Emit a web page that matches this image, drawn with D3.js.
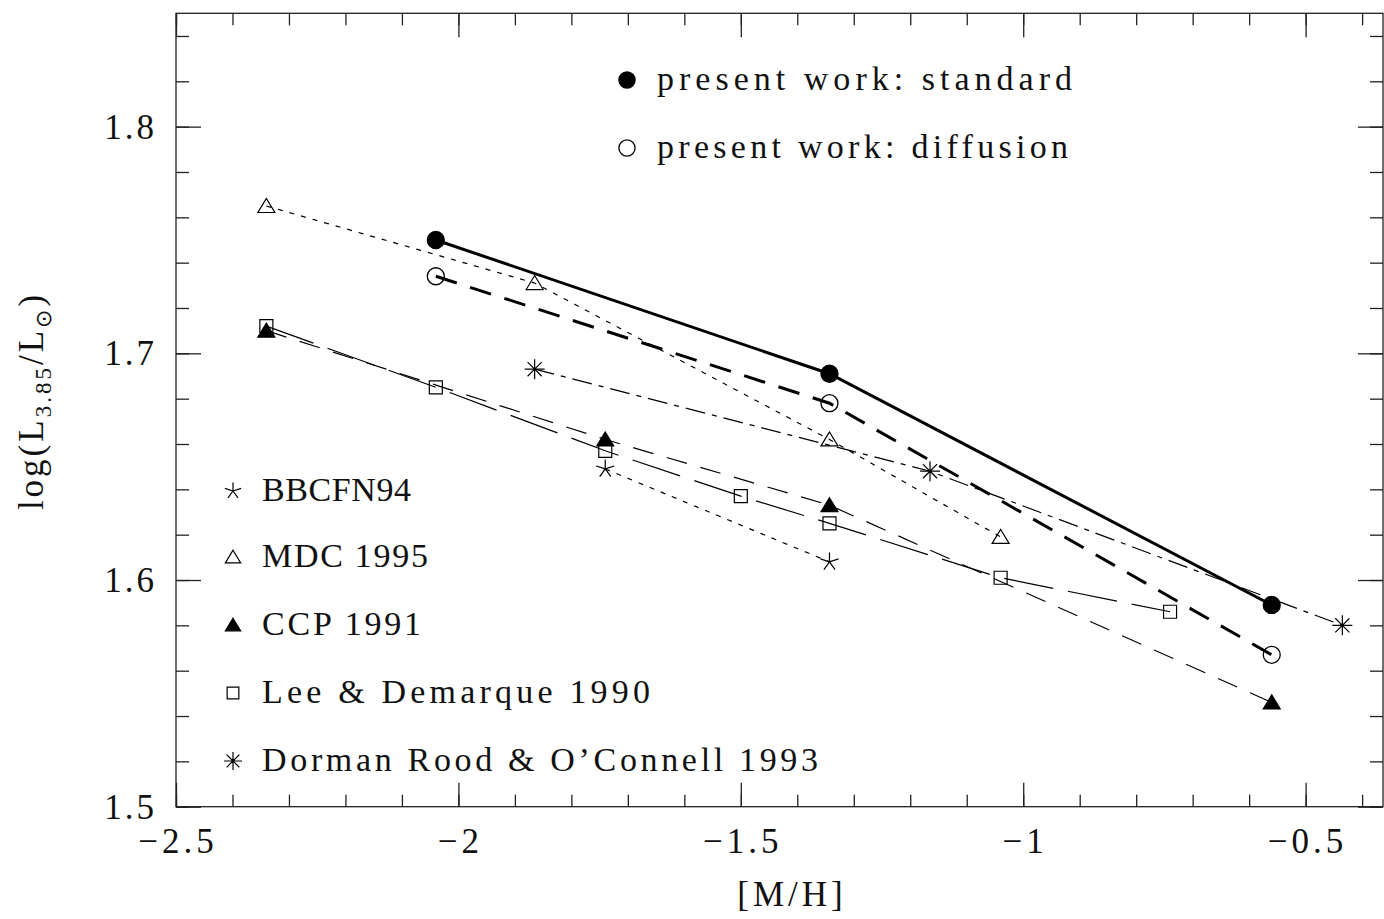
<!DOCTYPE html>
<html>
<head>
<meta charset="utf-8">
<script src="https://cdn.jsdelivr.net/npm/d3@7"></script>
<style>
  body { margin: 0; background: #fff; }
  svg text { font-family: "Liberation Serif", "DejaVu Serif", serif; fill: #111; }
</style>
</head>
<body>
<div id="chart"></div>
<script>
// [M/H] vs log(L3.85/Lsun) -- comparison with older HB models

// present work
var stdX = [-2.04, -1.343, -0.56];
var stdY = [1.750, 1.691, 1.589];
var difX = [-2.04, -1.343, -0.56];
var difY = [1.734, 1.678, 1.567];
// literature
var mdcX = [-2.34, -1.865, -1.343, -1.04];
var mdcY = [1.765, 1.731, 1.662, 1.619];
var ccpX = [-2.34, -1.74, -1.343, -0.56];
var ccpY = [1.710, 1.662, 1.633, 1.546];
var leeX = [-2.34, -2.04, -1.74, -1.5, -1.343, -1.04, -0.74];
var leeY = [1.712, 1.685, 1.657, 1.637, 1.625, 1.601, 1.586];
var bbcX = [-1.74, -1.343];
var bbcY = [1.649, 1.608];
var droX = [-1.865, -1.165, -0.435];
var droY = [1.693, 1.648, 1.580];

var xMajor = [-2.5, -2, -1.5, -1, -0.5];
var yMajor = [1.5, 1.6, 1.7, 1.8];

var width = 1384, height = 919;
var pLeft = 176, pRight = 1383, pTop = 13.3, pBottom = 806.7;

var svg = d3.select("#chart").append("svg")
    .attr("width", width)
    .attr("height", height);

var x = d3.scaleLinear().domain([-2.5, -0.363]).range([pLeft, pRight]);
var y = d3.scaleLinear().domain([1.5, 1.85]).range([pBottom, pTop]);

var xMinor = d3.range(-2.5, -0.36, 0.1).map(function(d) { return +d.toFixed(1); });
var yMinor = d3.range(1.5, 1.85, 0.02).map(function(d) { return +d.toFixed(2); });

// Frame
svg.append("rect")
  .attr("x", pLeft).attr("y", pTop)
  .attr("width", pRight - pLeft).attr("height", pBottom - pTop)
  .style("fill", "none")
  .style("stroke", "#222")
  .style("stroke-width", 1.3);

// Ticks on all four sides, pointing inward
function tickAxis(axis, vals, size, tx, ty) {
  var g = svg.append("g")
    .attr("transform", "translate(" + tx + "," + ty + ")")
    .call(axis.tickValues(vals).tickSize(size).tickSizeOuter(0).tickFormat(""));
  g.select(".domain").remove();
  g.selectAll("line").style("stroke", "#222").style("stroke-width", 1.3);
  return g;
}
tickAxis(d3.axisBottom(x), xMinor, -12, 0, pBottom);
tickAxis(d3.axisBottom(x), xMajor, -24, 0, pBottom);
tickAxis(d3.axisTop(x), xMinor, -12, 0, pTop);
tickAxis(d3.axisTop(x), xMajor, -24, 0, pTop);
tickAxis(d3.axisLeft(y), yMinor, -13, pLeft, 0);
tickAxis(d3.axisLeft(y), yMajor, -25, pLeft, 0);
tickAxis(d3.axisRight(y), yMinor, -13, pRight, 0);
tickAxis(d3.axisRight(y), yMajor, -25, pRight, 0);

// Tick labels
var fmt = d3.format("");
svg.selectAll(".xlab")
  .data(xMajor)
  .enter().append("text")
  .attr("class", "xlab")
  .attr("x", function(d) { return x(d) + 2; })
  .attr("y", 853)
  .style("text-anchor", "middle")
  .style("font-size", "35px")
  .style("letter-spacing", "4px")
  .text(function(d) { return fmt(d); });

svg.selectAll(".ylab")
  .data(yMajor)
  .enter().append("text")
  .attr("class", "ylab")
  .attr("x", 157)
  .attr("y", function(d) { return y(d) + 12; })
  .style("text-anchor", "end")
  .style("font-size", "35px")
  .style("letter-spacing", "3px")
  .text(function(d) { return d3.format(".1f")(d); });

// Axis titles
svg.append("text")
  .attr("x", 792)
  .attr("y", 906)
  .style("text-anchor", "middle")
  .style("font-size", "35px")
  .style("letter-spacing", "4px")
  .text("[M/H]");

var ylab = svg.append("text")
  .attr("transform", "translate(43,401) rotate(-90)")
  .style("text-anchor", "middle")
  .style("font-size", "35px")
  .style("letter-spacing", "3px");
ylab.append("tspan").text("log(L");
ylab.append("tspan").attr("dy", 8).style("font-size", "23px").text("3.85");
ylab.append("tspan").attr("dy", -8).text("/L");
ylab.append("tspan").attr("dy", 8).style("font-size", "22px").style("font-family", "DejaVu Sans").text("\u2299");
ylab.append("tspan").attr("dy", -8).text(")");

// Symbol drawers
function starPath(n, r, rot) {
  var p = "";
  for (var i = 0; i < n; i++) {
    var a = rot + i * 2 * Math.PI / n;
    p += "M0,0L" + (r * Math.cos(a)).toFixed(2) + "," + (r * Math.sin(a)).toFixed(2);
  }
  return p;
}
var sym = {
  star5: function(s) { return starPath(5, 9.5 * s, -Math.PI / 2); },
  star8: function(s) { return starPath(8, 10 * s, -Math.PI / 2); },
  tri: function(s) { return "M0," + (-7.5 * s) + "L" + (8.5 * s) + "," + (6.5 * s) + "L" + (-8.5 * s) + "," + (6.5 * s) + "Z"; },
  square: function(s) { return "M" + (-6.5 * s) + "," + (-6.5 * s) + "h" + (13 * s) + "v" + (13 * s) + "h" + (-13 * s) + "Z"; }
};

var line = d3.line()
  .x(function(d) { return x(d[0]); })
  .y(function(d) { return y(d[1]); });

function series(xs, ys, dash, sw, marker) {
  var pts = d3.zip(xs, ys);
  svg.append("path")
    .attr("d", line(pts))
    .style("fill", "none")
    .style("stroke", "#000")
    .style("stroke-width", sw)
    .style("stroke-dasharray", dash);
  svg.selectAll(null)
    .data(pts)
    .enter().append("g")
    .attr("transform", function(d) { return "translate(" + x(d[0]) + "," + y(d[1]) + ")"; })
    .each(function() { marker(d3.select(this), 1); });
}

function mCircle(fill) {
  return function(g, s) {
    g.append("circle").attr("r", 8.5 * s)
      .style("fill", fill ? "#000" : "none")
      .style("stroke", "#000")
      .style("stroke-width", 1.3);
  };
}
function mPath(kind, fill) {
  return function(g, s) {
    g.append("path").attr("d", sym[kind](s))
      .style("fill", fill ? "#000" : "none")
      .style("stroke", "#000")
      .style("stroke-width", 1.2);
  };
}

// Draw series
series(bbcX, bbcY, "5,7", 1.2, mPath("star5", false));
series(mdcX, mdcY, "5,7", 1.2, mPath("tri", false));
series(droX, droY, "20,7,5,7", 1.2, mPath("star8", false));
series(leeX, leeY, "50,15", 1.2, mPath("square", false));
series(ccpX, ccpY, "21,14", 1.2, mPath("tri", true));
series(difX, difY, "22,14", 3, mCircle(false));
series(stdX, stdY, null, 3, mCircle(true));

// Legends
var topLegend = [
  { label: "present work: standard", marker: mCircle(true), y: 80, len: 415 },
  { label: "present work: diffusion", marker: mCircle(false), y: 148, len: 411 }
];
var botLegend = [
  { label: "BBCFN94", marker: mPath("star5", false), y: 491, len: 149 },
  { label: "MDC 1995", marker: mPath("tri", false), y: 557, len: 166 },
  { label: "CCP 1991", marker: mPath("tri", true), y: 625, len: 159 },
  { label: "Lee & Demarque 1990", marker: mPath("square", false), y: 693, len: 388 },
  { label: "Dorman Rood & O\u2019Connell 1993", marker: mPath("star8", false), y: 761, len: 556 }
];

topLegend.forEach(function(d) {
  var g = svg.append("g").attr("transform", "translate(627," + d.y + ")");
  d.marker(g, 0.95);
  svg.append("text")
    .attr("x", 657).attr("y", d.y + 10)
    .attr("textLength", d.len).attr("lengthAdjust", "spacing")
    .style("font-size", "34px")
    .text(d.label);
});

botLegend.forEach(function(d) {
  var g = svg.append("g").attr("transform", "translate(233," + d.y + ")");
  d.marker(g, 0.9);
  svg.append("text")
    .attr("x", 262).attr("y", d.y + 10)
    .attr("textLength", d.len).attr("lengthAdjust", "spacing")
    .style("font-size", "34px")
    .text(d.label);
});
</script>
</body>
</html>
